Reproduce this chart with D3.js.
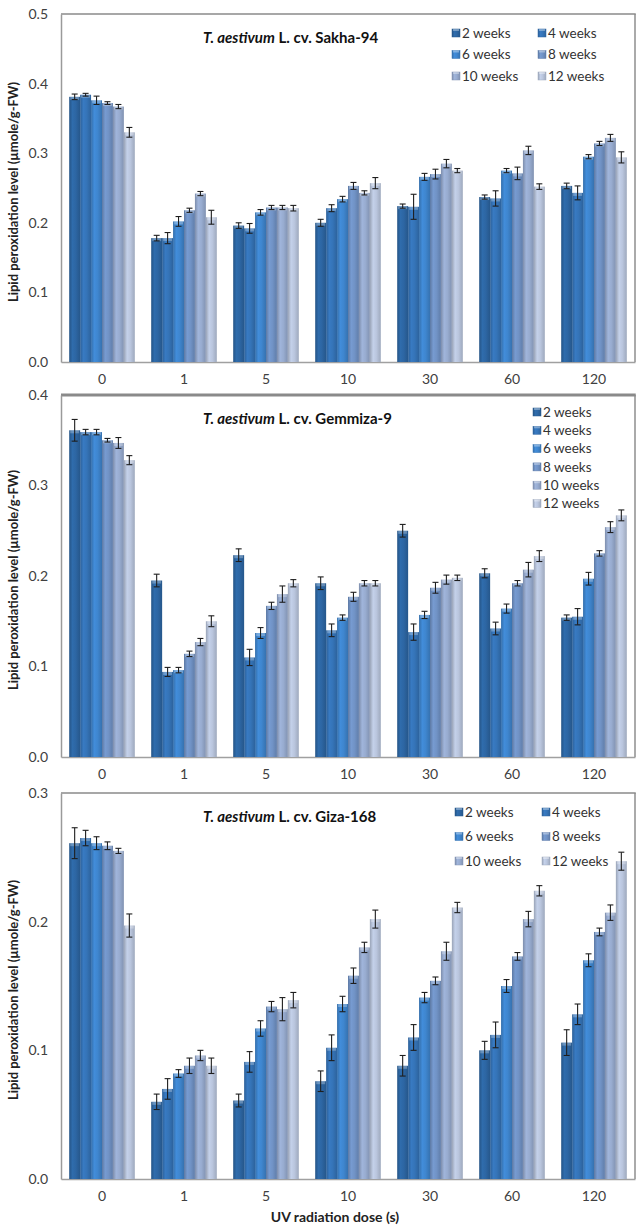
<!DOCTYPE html>
<html>
<head>
<meta charset="utf-8">
<script src="https://cdn.jsdelivr.net/npm/d3@7"></script>
<style>
  html, body { margin: 0; padding: 0; background: #fff; }
  svg { display: block; font-family: Lato, "Open Sans", sans-serif; }
</style>
</head>
<body>
<svg id="chart" width="636" height="1228"></svg>
<script>
// UV radiation doses (s) on the x axis
const doses = ["0", "1", "5", "10", "30", "60", "120"];
// Plant age series
const weeks = ["2 weeks", "4 weeks", "6 weeks", "8 weeks", "10 weeks", "12 weeks"];
const seriesColors = ["#2d66a3", "#3574b8", "#3f86cf", "#7193c6", "#98acd0", "#bac6de"];

// Lipid peroxidation means, one row per dose, one value per age
const sakhaMeans = [
  [0.381, 0.384, 0.376, 0.372, 0.367, 0.330],
  [0.178, 0.178, 0.202, 0.218, 0.242, 0.208],
  [0.196, 0.192, 0.215, 0.222, 0.222, 0.221],
  [0.200, 0.221, 0.234, 0.253, 0.243, 0.257],
  [0.224, 0.223, 0.266, 0.270, 0.285, 0.275],
  [0.237, 0.235, 0.275, 0.271, 0.304, 0.252],
  [0.253, 0.243, 0.295, 0.314, 0.322, 0.294]
];
const sakhaErr = [
  [0.004, 0.002, 0.006, 0.002, 0.003, 0.007],
  [0.004, 0.008, 0.007, 0.003, 0.003, 0.010],
  [0.004, 0.007, 0.004, 0.003, 0.003, 0.004],
  [0.005, 0.005, 0.004, 0.005, 0.003, 0.008],
  [0.003, 0.018, 0.005, 0.007, 0.006, 0.003],
  [0.003, 0.011, 0.003, 0.009, 0.006, 0.004],
  [0.004, 0.010, 0.003, 0.003, 0.005, 0.008]
];

const gemmizaMeans = [
  [0.361, 0.359, 0.359, 0.350, 0.347, 0.328],
  [0.195, 0.094, 0.096, 0.114, 0.127, 0.150],
  [0.223, 0.110, 0.137, 0.167, 0.180, 0.192],
  [0.192, 0.140, 0.154, 0.177, 0.192, 0.192],
  [0.250, 0.138, 0.157, 0.187, 0.196, 0.198],
  [0.203, 0.142, 0.164, 0.192, 0.207, 0.222],
  [0.154, 0.155, 0.197, 0.225, 0.254, 0.267]
];
const gemmizaErr = [
  [0.012, 0.003, 0.003, 0.002, 0.006, 0.005],
  [0.007, 0.005, 0.003, 0.003, 0.004, 0.006],
  [0.007, 0.009, 0.006, 0.004, 0.009, 0.004],
  [0.007, 0.007, 0.003, 0.005, 0.003, 0.003],
  [0.007, 0.009, 0.004, 0.006, 0.005, 0.003],
  [0.005, 0.007, 0.005, 0.003, 0.008, 0.006],
  [0.003, 0.009, 0.007, 0.003, 0.006, 0.006]
];

const gizaMeans = [
  [0.261, 0.265, 0.261, 0.259, 0.255, 0.197],
  [0.060, 0.070, 0.082, 0.088, 0.096, 0.088],
  [0.061, 0.091, 0.117, 0.134, 0.132, 0.139],
  [0.076, 0.102, 0.136, 0.158, 0.180, 0.202],
  [0.088, 0.110, 0.141, 0.154, 0.177, 0.211],
  [0.100, 0.112, 0.150, 0.173, 0.202, 0.224],
  [0.106, 0.128, 0.170, 0.192, 0.207, 0.247]
];
const gizaErr = [
  [0.012, 0.006, 0.005, 0.003, 0.002, 0.009],
  [0.006, 0.008, 0.003, 0.006, 0.004, 0.006],
  [0.005, 0.008, 0.006, 0.004, 0.009, 0.006],
  [0.008, 0.010, 0.006, 0.006, 0.004, 0.007],
  [0.008, 0.010, 0.004, 0.003, 0.007, 0.004],
  [0.007, 0.010, 0.005, 0.003, 0.006, 0.004],
  [0.010, 0.008, 0.005, 0.003, 0.006, 0.007]
];

// Tick labels per panel
const sakhaTicks = [0, 0.1, 0.2, 0.3, 0.4, 0.5];
const gemmizaTicks = [0, 0.1, 0.2, 0.3, 0.4];
const gizaTicks = [0, 0.1, 0.2, 0.3];

const panels = [
  { cultivar: "Sakha-94", means: sakhaMeans, err: sakhaErr, ticks: sakhaTicks,
    top: 14, bottom: 362, legend: "grid", legendX: 456, legendY: 33, legendStep: 21.5, colStep: 86, topStroke: 1.5 },
  { cultivar: "Gemmiza-9", means: gemmizaMeans, err: gemmizaErr, ticks: gemmizaTicks,
    top: 395, bottom: 757, legend: "column", legendX: 537, legendY: 412, legendStep: 18.3, colStep: 0, topStroke: 3 },
  { cultivar: "Giza-168", means: gizaMeans, err: gizaErr, ticks: gizaTicks,
    top: 793, bottom: 1179, legend: "grid", legendX: 459, legendY: 812, legendStep: 24.5, colStep: 87, topStroke: 1.5 }
];

const left = 61, right = 635;
const svg = d3.select("#chart");
const defs = svg.append("defs");

// Cylinder-like shading for each series
seriesColors.forEach((c, i) => {
  const base = d3.color(c);
  const g = defs.append("linearGradient").attr("id", "bar" + i)
    .attr("x1", "0%").attr("x2", "100%").attr("y1", "0%").attr("y2", "0%");
  g.append("stop").attr("offset", "0%").attr("stop-color", base.darker(0.55));
  g.append("stop").attr("offset", "30%").attr("stop-color", base.brighter(0.15));
  g.append("stop").attr("offset", "60%").attr("stop-color", base);
  g.append("stop").attr("offset", "100%").attr("stop-color", base.darker(0.45));
});

const x0 = d3.scaleBand().domain(doses).range([left, right]).paddingInner(0.2).paddingOuter(0.1);
const x1 = d3.scaleBand().domain(weeks.map((d, i) => i)).range([0, x0.bandwidth()]);

panels.forEach(p => {
  const maxV = p.ticks[p.ticks.length - 1];
  const y = d3.scaleLinear().domain([0, maxV]).range([p.bottom, p.top]);
  const g = svg.append("g");

  // Plot frame
  g.append("line").attr("x1", right).attr("x2", right).attr("y1", p.top).attr("y2", p.bottom)
    .attr("stroke", "#8e8e8e").attr("stroke-width", 1.5);
  g.append("line").attr("x1", left).attr("x2", right + 0.75).attr("y1", p.top).attr("y2", p.top)
    .attr("stroke", "#8a8a8a").attr("stroke-width", p.topStroke);

  // Y axis
  const yAxis = d3.axisLeft(y).tickValues(p.ticks).tickFormat(d3.format(".1f")).tickSize(0).tickPadding(13);
  const ya = g.append("g").attr("transform", `translate(${left},0)`).call(yAxis);
  ya.select(".domain").attr("stroke", "#9a9a9a").attr("stroke-width", 1.5);
  ya.selectAll("text").attr("font-size", 14).attr("fill", "#404040").attr("font-family", "Lato, sans-serif");

  // X axis
  const xAxis = d3.axisBottom(x0).tickSize(0).tickPadding(12);
  const xa = g.append("g").attr("transform", `translate(0,${p.bottom})`).call(xAxis);
  xa.select(".domain").attr("stroke", "#a0a0a0").attr("stroke-width", 1.5);
  xa.selectAll("text").attr("font-size", 14).attr("fill", "#404040").attr("font-family", "Lato, sans-serif");

  // Bars
  const groups = g.append("g").selectAll("g").data(p.means).join("g")
    .attr("transform", (d, i) => `translate(${x0(doses[i])},0)`);

  groups.each(function (row, di) {
    const grp = d3.select(this);
    row.forEach((v, si) => {
      const bx = x1(si), bw = x1.bandwidth();
      grp.append("rect").attr("x", bx).attr("y", y(v)).attr("width", bw).attr("height", p.bottom - y(v))
        .attr("fill", `url(#bar${si})`);
      // soft highlight along the bar top
      grp.append("rect").attr("x", bx + 1).attr("y", y(v)).attr("width", bw - 2).attr("height", 3)
        .attr("fill", "#ffffff").attr("opacity", 0.28);
      // error bar
      const e = p.err[di][si];
      const cx = bx + bw / 2;
      const eb = grp.append("g").attr("stroke", "#1e1e1e").attr("stroke-width", 1.1);
      eb.append("line").attr("x1", cx).attr("x2", cx).attr("y1", y(v + e)).attr("y2", y(v - e));
      eb.append("line").attr("x1", cx - 3).attr("x2", cx + 3).attr("y1", y(v + e)).attr("y2", y(v + e));
      eb.append("line").attr("x1", cx - 3).attr("x2", cx + 3).attr("y1", y(v - e)).attr("y2", y(v - e));
    });
  });

  // Panel title
  const t = g.append("text").attr("x", 203).attr("y", p.top + 29)
    .attr("font-size", 15).attr("font-weight", "bold").attr("fill", "#111");
  t.append("tspan").attr("font-style", "italic").text("T. aestivum");
  t.append("tspan").text(" L. cv. " + p.cultivar);

  // Legend
  const leg = g.append("g");
  weeks.forEach((w, i) => {
    let lx, ly;
    if (p.legend === "grid") {
      lx = p.legendX + (i % 2) * p.colStep;
      ly = p.legendY + Math.floor(i / 2) * p.legendStep;
    } else {
      lx = p.legendX;
      ly = p.legendY + i * p.legendStep;
    }
    leg.append("rect").attr("x", lx - 4).attr("y", ly - 4).attr("width", 8).attr("height", 8)
      .attr("fill", `url(#bar${i})`).attr("stroke", d3.color(seriesColors[i]).darker(0.4)).attr("stroke-width", 0.5);
    leg.append("rect").attr("x", lx - 3).attr("y", ly - 4).attr("width", 6).attr("height", 2)
      .attr("fill", "#fff").attr("opacity", 0.35);
    leg.append("text").attr("x", lx + 6).attr("y", ly).attr("dy", "0.35em")
      .attr("font-size", 13.5).attr("fill", "#333").text(w);
  });

  // Y axis title
  g.append("text")
    .attr("transform", `translate(18,${(p.top + p.bottom) / 2 + 4}) rotate(-90)`)
    .attr("text-anchor", "middle").attr("font-size", 13).attr("font-weight", "bold").attr("fill", "#222")
    .text("Lipid peroxidation level (µmole/g-FW)");
});

// X axis title (shared, bottom)
svg.append("text").attr("x", 335).attr("y", 1222).attr("text-anchor", "middle")
  .attr("font-size", 14).attr("font-weight", "bold").attr("fill", "#222")
  .text("UV radiation dose (s)");
</script>
</body>
</html>
